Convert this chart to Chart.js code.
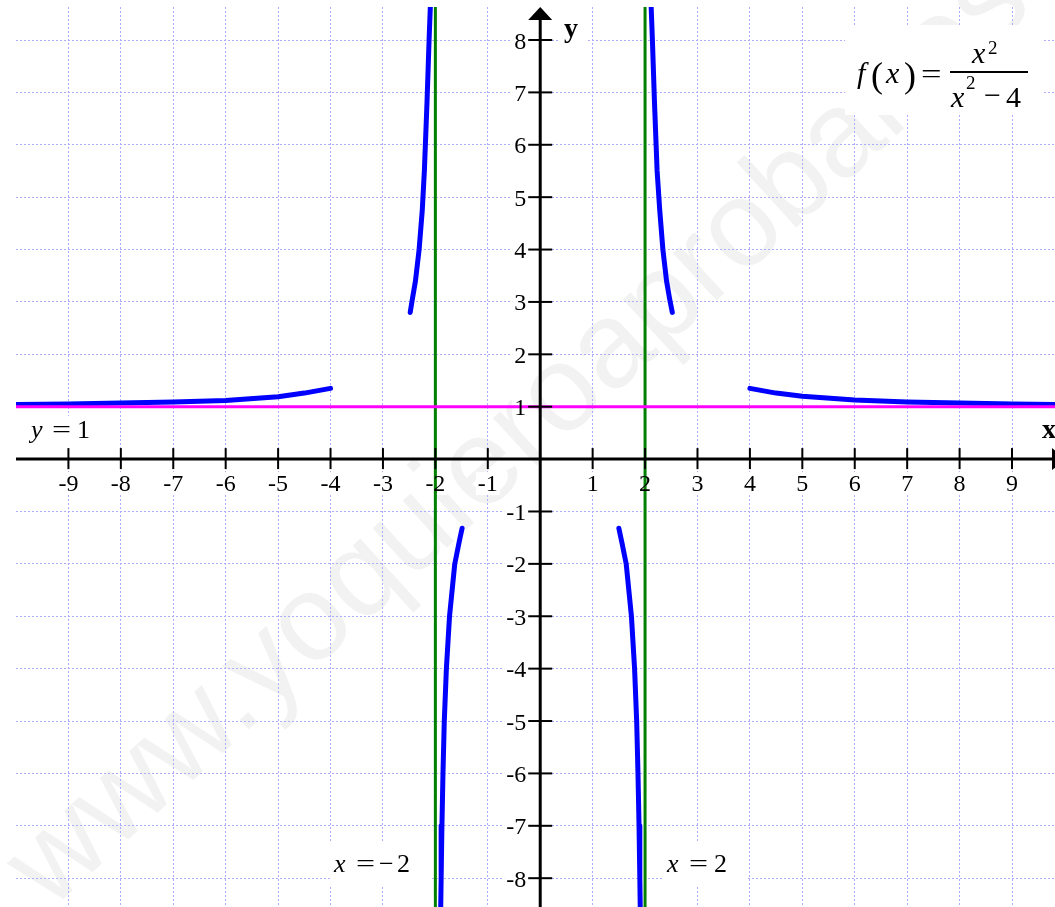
<!DOCTYPE html>
<html>
<head>
<meta charset="utf-8">
<script src="https://cdn.jsdelivr.net/npm/chart.js@4.4.1/dist/chart.umd.min.js"></script>
<style>
  html, body { margin: 0; padding: 0; background: #fff; }
  #wrap { width: 1055px; height: 907px; position: relative; }
</style>
</head>
<body>
<div id="wrap"><canvas id="graph"></canvas></div>
<script>
// visible window of the plot
const xMin = -10, xMax = 9.82;
const yMin = -8.55, yMax = 8.63;

// tick labels on the axes
const xTickValues = [-9, -8, -7, -6, -5, -4, -3, -2, -1, 1, 2, 3, 4, 5, 6, 7, 8, 9];
const xTickLabels = ['-9', '-8', '-7', '-6', '-5', '-4', '-3', '-2', '-1', '1', '2', '3', '4', '5', '6', '7', '8', '9'];
const yTickValues = [-8, -7, -6, -5, -4, -3, -2, -1, 1, 2, 3, 4, 5, 6, 7, 8];
const yTickLabels = ['-8', '-7', '-6', '-5', '-4', '-3', '-2', '-1', '1', '2', '3', '4', '5', '6', '7', '8'];

// f(x) = x^2 / (x^2 - 4)
const leftOuterX = [-10, -9, -8, -7, -6, -5, -4.5, -4];
const leftOuterY = [1.04, 1.05, 1.07, 1.09, 1.12, 1.19, 1.26, 1.35];
const leftUpperX = [-2.48, -2.44, -2.38, -2.31, -2.25, -2.21, -2.16, -2.12, -2.09];
const leftUpperY = [2.8, 3.05, 3.4, 4.0, 4.75, 5.5, 6.8, 8.0, 8.8];
const leftLowerX = [-1.49, -1.55, -1.63, -1.73, -1.79, -1.83, -1.855, -1.875, -1.89, -1.9];
const leftLowerY = [-1.32, -1.6, -2.0, -3.0, -4.0, -5.0, -6.0, -7.0, -8.0, -8.7];
const rightLowerX = [1.5, 1.56, 1.64, 1.74, 1.8, 1.84, 1.865, 1.885, 1.9, 1.91];
const rightLowerY = [-1.32, -1.6, -2.0, -3.0, -4.0, -5.0, -6.0, -7.0, -8.0, -8.7];
const rightUpperX = [2.52, 2.47, 2.41, 2.34, 2.28, 2.23, 2.18, 2.14, 2.11];
const rightUpperY = [2.8, 3.05, 3.4, 4.0, 4.75, 5.5, 6.8, 8.0, 8.8];
const rightOuterX = [4, 4.5, 5, 6, 7, 8, 9, 9.9];
const rightOuterY = [1.35, 1.26, 1.2, 1.13, 1.09, 1.07, 1.05, 1.04];

// asymptotes
const horizAsymptote = 1;
const vertAsymptotes = [-2, 2];

const gridColor = '#adadff';
const curveColor = '#0000ff';
const serif = '"Liberation Serif", "Times New Roman", serif';

function toPoints(xs, ys) {
    return xs.map((x, i) => ({ x: x, y: ys[i] }));
}

function curveSet(xs, ys) {
    return {
        data: toPoints(xs, ys),
        borderColor: curveColor,
        borderWidth: 5,
        borderCapStyle: 'round',
        borderJoinStyle: 'round',
        pointRadius: 0,
        showLine: true,
        tension: 0
    };
}

function text(ctx, str, x, y, font, align) {
    ctx.font = font;
    ctx.textAlign = align || 'left';
    ctx.fillText(str, x, y);
}

// wide "=" like the equation editor draws it
function eq(ctx, x, y, size) {
    ctx.save();
    ctx.translate(x, y);
    ctx.scale(1.3, 1);
    text(ctx, '=', 0, 0, size + 'px ' + serif);
    ctx.restore();
}

function whiteBox(ctx, x0, y0, x1, y1) {
    ctx.fillStyle = '#fff';
    ctx.fillRect(x0, y0, x1 - x0, y1 - y0);
}

const axesPlugin = {
    id: 'axesPlugin',
    beforeDraw(chart) {
        const ctx = chart.ctx;
        ctx.save();
        ctx.fillStyle = '#fff';
        ctx.fillRect(0, 0, chart.width, chart.height);
        // watermark
        ctx.translate(520, 435);
        ctx.rotate(-42.5 * Math.PI / 180);
        ctx.fillStyle = 'rgba(0,0,0,0.05)';
        ctx.font = '122px "Liberation Sans", Arial, sans-serif';
        ctx.textAlign = 'center';
        ctx.textBaseline = 'middle';
        ctx.fillText('www.yoquieroaprobar.es', 0, 0);
        ctx.restore();
    },
    beforeDatasetsDraw(chart) {
        const ctx = chart.ctx;
        const xs = chart.scales.x, ys = chart.scales.y;
        const ox = xs.getPixelForValue(0), oy = ys.getPixelForValue(0);
        ctx.save();
        // label backgrounds hide the grid
        ctx.font = '24px ' + serif;
        xTickValues.forEach((v, i) => {
            const px = xs.getPixelForValue(v);
            const w = ctx.measureText(xTickLabels[i]).width;
            whiteBox(ctx, px - w / 2 - 2, oy + 13, px + w / 2 + 2, oy + 36);
        });
        yTickValues.forEach((v, i) => {
            const py = ys.getPixelForValue(v);
            const w = ctx.measureText(yTickLabels[i]).width;
            whiteBox(ctx, ox - 16 - w, py - 10, ox - 12, py + 10);
        });
        whiteBox(ctx, 845, 25, 1042, 115);
        whiteBox(ctx, 24, 416, 98, 450);
        whiteBox(ctx, 330, 843, 430, 885);
        whiteBox(ctx, 662, 843, 748, 885);
        whiteBox(ctx, 558, 18, 586, 46);
        whiteBox(ctx, 1040, 418, 1055, 442);
        ctx.restore();
    },
    afterDatasetsDraw(chart) {
        const ctx = chart.ctx;
        const xs = chart.scales.x, ys = chart.scales.y;
        const ox = xs.getPixelForValue(0), oy = ys.getPixelForValue(0);
        ctx.save();
        ctx.strokeStyle = '#000';
        ctx.fillStyle = '#000';

        // axes
        ctx.lineWidth = 3;
        ctx.beginPath();
        ctx.moveTo(xs.left, oy);
        ctx.lineTo(chart.width, oy);
        ctx.moveTo(ox, chart.height);
        ctx.lineTo(ox, 19);
        ctx.stroke();
        // arrow heads
        ctx.beginPath();
        ctx.moveTo(ox, 7);
        ctx.lineTo(ox - 12, 20);
        ctx.lineTo(ox + 12, 20);
        ctx.closePath();
        ctx.fill();
        ctx.beginPath();
        ctx.moveTo(1066, oy);
        ctx.lineTo(1052, oy - 11);
        ctx.lineTo(1052, oy + 11);
        ctx.closePath();
        ctx.fill();

        // tick marks and labels
        ctx.lineWidth = 2;
        ctx.textBaseline = 'alphabetic';
        xTickValues.forEach((v, i) => {
            const px = xs.getPixelForValue(v);
            ctx.beginPath();
            ctx.moveTo(px, oy - 11);
            ctx.lineTo(px, oy + 10);
            ctx.stroke();
            text(ctx, xTickLabels[i], px, oy + 32, '24px ' + serif, 'center');
        });
        yTickValues.forEach((v, i) => {
            const py = ys.getPixelForValue(v);
            ctx.beginPath();
            ctx.moveTo(ox - 12, py);
            ctx.lineTo(ox + 12, py);
            ctx.stroke();
            text(ctx, yTickLabels[i], ox - 14, py + 8.5, '24px ' + serif, 'right');
        });

        // axis names
        text(ctx, 'y', 571, 37, 'bold 28px ' + serif, 'center');
        text(ctx, 'x', 1049, 438, 'bold 28px ' + serif, 'center');

        // asymptote labels
        const it = 'italic 26px ' + serif, up = '26px ' + serif;
        text(ctx, 'y', 31, 438, it);
        eq(ctx, 52, 438, 26);
        text(ctx, '1', 77, 438, up);

        text(ctx, 'x', 334, 872, it);
        eq(ctx, 356, 872, 26);
        text(ctx, '\u2212', 379, 872, up);
        text(ctx, '2', 397, 872, up);

        text(ctx, 'x', 667, 872, it);
        eq(ctx, 689, 872, 26);
        text(ctx, '2', 714, 872, up);

        // f(x) = x^2 / (x^2 - 4)
        const fi = 'italic 30px ' + serif, fu = '30px ' + serif, fs = '19px ' + serif;
        text(ctx, 'f', 857, 83, fi);
        text(ctx, '(', 871, 87, '36px ' + serif);
        text(ctx, 'x', 886, 83, fi);
        text(ctx, ')', 904, 87, '36px ' + serif);
        eq(ctx, 921, 83, 28);
        ctx.fillRect(950, 71, 78, 2);
        text(ctx, 'x', 972, 63, fi);
        text(ctx, '2', 988, 54, fs);
        text(ctx, 'x', 951, 107, fi);
        text(ctx, '2', 966, 89, fs);
        text(ctx, '\u2212', 984, 105, fu);
        text(ctx, '4', 1006, 107, fu);
        ctx.restore();
    }
};

const datasets = [
    {
        data: [{ x: xMin, y: horizAsymptote }, { x: xMax, y: horizAsymptote }],
        borderColor: '#ff00ff', borderWidth: 3, pointRadius: 0, showLine: true
    },
    ...vertAsymptotes.map(a => ({
        data: [{ x: a, y: yMin }, { x: a, y: yMax }],
        borderColor: '#008000', borderWidth: 3, pointRadius: 0, showLine: true
    })),
    curveSet(leftOuterX, leftOuterY),
    curveSet(leftUpperX, leftUpperY),
    curveSet(leftLowerX, leftLowerY),
    curveSet(rightLowerX, rightLowerY),
    curveSet(rightUpperX, rightUpperY),
    curveSet(rightOuterX, rightOuterY)
];

const hiddenEdge = (c) => (c.tick && (c.tick.value === 0 || c.tick.value <= xMin)) ? 'rgba(0,0,0,0)' : gridColor;

new Chart(document.getElementById('graph'), {
    type: 'scatter',
    data: { datasets: datasets },
    options: {
        responsive: true,
        maintainAspectRatio: false,
        animation: false,
        layout: { padding: { left: 16, top: 7, right: 0, bottom: 0 } },
        plugins: { legend: { display: false }, tooltip: { enabled: false } },
        scales: {
            x: {
                type: 'linear', min: xMin, max: xMax,
                ticks: { display: false, stepSize: 1, includeBounds: false },
                grid: { color: hiddenEdge, drawTicks: false, lineWidth: 1 },
                border: { display: false, dash: [2, 2] }
            },
            y: {
                type: 'linear', min: yMin, max: yMax,
                ticks: { display: false, stepSize: 1, includeBounds: false },
                grid: { color: hiddenEdge, drawTicks: false, lineWidth: 1 },
                border: { display: false, dash: [2, 2] }
            }
        }
    },
    plugins: [axesPlugin]
});
</script>
</body>
</html>
